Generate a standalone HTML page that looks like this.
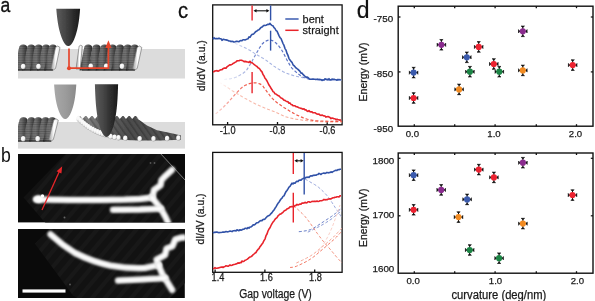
<!DOCTYPE html>
<html><head><meta charset="utf-8"><style>
html,body{margin:0;padding:0;background:#fff;}
svg{display:block;will-change:transform;}
text{-webkit-font-smoothing:antialiased;}
</style></head><body>
<svg width="595" height="301" viewBox="0 0 595 301">
<rect width="595" height="301" fill="#fff"/>

<defs>
 <linearGradient id="stripe" x1="0" y1="0" x2="1" y2="0">
  <stop offset="0" stop-color="#303030"/>
  <stop offset="0.3" stop-color="#6e6e6e"/>
  <stop offset="0.5" stop-color="#727272"/>
  <stop offset="0.8" stop-color="#484848"/>
  <stop offset="1" stop-color="#2a2a2a"/>
 </linearGradient>
 <linearGradient id="wstripe" x1="0" y1="0" x2="1" y2="0">
  <stop offset="0" stop-color="#9a9a9a"/>
  <stop offset="0.55" stop-color="#ffffff"/>
  <stop offset="1" stop-color="#e8e8e8"/>
 </linearGradient>
 <linearGradient id="bentbody" x1="0" y1="0" x2="1" y2="0">
  <stop offset="0" stop-color="#8c8c8c"/>
  <stop offset="0.25" stop-color="#666"/>
  <stop offset="0.5" stop-color="#4c4c4c"/>
  <stop offset="1" stop-color="#555"/>
 </linearGradient>
 <pattern id="hlines" width="4" height="2.3" patternUnits="userSpaceOnUse"><rect y="0" width="4" height="0.8" fill="#000" opacity="0.18"/></pattern>
 <pattern id="dlines" width="5" height="5" patternUnits="userSpaceOnUse" patternTransform="rotate(-35)"><rect width="1.6" height="5" fill="#000" opacity="0.22"/></pattern>
 <radialGradient id="ball" cx="0.4" cy="0.35" r="0.7">
  <stop offset="0" stop-color="#ffffff"/>
  <stop offset="0.6" stop-color="#f0f0f0"/>
  <stop offset="1" stop-color="#9a9a9a"/>
 </radialGradient>
 <linearGradient id="tipdark" x1="0" y1="0" x2="1" y2="0">
  <stop offset="0" stop-color="#5c5c5c"/>
  <stop offset="0.35" stop-color="#474747"/>
  <stop offset="0.8" stop-color="#262626"/>
  <stop offset="1" stop-color="#1a1a1a"/>
 </linearGradient>
 <linearGradient id="tiplight" x1="0" y1="0" x2="1" y2="0">
  <stop offset="0" stop-color="#a8a8a8"/>
  <stop offset="0.5" stop-color="#9c9c9c"/>
  <stop offset="1" stop-color="#8a8a8a"/>
 </linearGradient>
 <filter id="blur1" filterUnits="userSpaceOnUse" x="0" y="0" width="595" height="301"><feGaussianBlur stdDeviation="0.7"/></filter>
 <filter id="blur12" filterUnits="userSpaceOnUse" x="0" y="0" width="595" height="301"><feGaussianBlur stdDeviation="0.6"/></filter>
 <filter id="blur05" filterUnits="userSpaceOnUse" x="0" y="0" width="595" height="301"><feGaussianBlur stdDeviation="0.45"/></filter>
 <filter id="glow" filterUnits="userSpaceOnUse" x="0" y="0" width="595" height="301"><feGaussianBlur stdDeviation="1.0"/></filter>
 <filter id="blur08" filterUnits="userSpaceOnUse" x="0" y="0" width="595" height="301"><feGaussianBlur stdDeviation="0.8"/></filter>
 <pattern id="stm" width="10" height="10" patternUnits="userSpaceOnUse" patternTransform="rotate(40)"><rect width="10" height="10" fill="#121212"/><rect width="4" height="10" fill="#181818"/></pattern>
 <clipPath id="clipb1"><rect x="18" y="154" width="167" height="68.4"/></clipPath>
 <clipPath id="clipb2"><rect x="18" y="229" width="166.8" height="69"/></clipPath>
 <clipPath id="clipA"><rect x="18" y="0" width="167.5" height="150"/></clipPath>
 <clipPath id="clipA1"><rect x="18" y="0" width="167" height="79"/></clipPath>
 <clipPath id="clipA2"><rect x="18" y="80" width="167" height="69"/></clipPath>
</defs>

<defs><linearGradient id="g0" gradientUnits="userSpaceOnUse" x1="230" y1="0" x2="342" y2="0"><stop offset="0.000" stop-color="#8a9cd8" stop-opacity="0"/><stop offset="0.134" stop-color="#8a9cd8" stop-opacity="0.7"/><stop offset="0.536" stop-color="#8a9cd8" stop-opacity="0.8"/><stop offset="1.000" stop-color="#8a9cd8" stop-opacity="0.6"/></linearGradient><linearGradient id="g1" gradientUnits="userSpaceOnUse" x1="219" y1="0" x2="342" y2="0"><stop offset="0.000" stop-color="#f49a84" stop-opacity="0"/><stop offset="0.130" stop-color="#f49a84" stop-opacity="0.6"/><stop offset="0.577" stop-color="#f49a84" stop-opacity="0.8"/><stop offset="1.000" stop-color="#f49a84" stop-opacity="0.9"/></linearGradient><linearGradient id="g2" gradientUnits="userSpaceOnUse" x1="224" y1="0" x2="342" y2="0"><stop offset="0.000" stop-color="#4f68c0" stop-opacity="0.05"/><stop offset="0.178" stop-color="#4f68c0" stop-opacity="0.5"/><stop offset="0.322" stop-color="#4f68c0" stop-opacity="0.95"/><stop offset="0.644" stop-color="#4f68c0" stop-opacity="0.9"/><stop offset="1.000" stop-color="#4f68c0" stop-opacity="0.5"/></linearGradient><linearGradient id="g3" gradientUnits="userSpaceOnUse" x1="215" y1="0" x2="342" y2="0"><stop offset="0.000" stop-color="#ee5040" stop-opacity="0.2"/><stop offset="0.157" stop-color="#ee5040" stop-opacity="0.7"/><stop offset="0.276" stop-color="#ee5040" stop-opacity="0.95"/><stop offset="0.669" stop-color="#ee5040" stop-opacity="0.95"/><stop offset="1.000" stop-color="#ee5040" stop-opacity="0.95"/></linearGradient></defs>
<g filter="url(#blur05)"><g clip-path="url(#clipA)"><rect x="18" y="49" width="167" height="29.5" fill="#dcdcdc"/>
<rect x="18" y="122" width="167" height="26.6" fill="#dcdcdc"/>
<g filter="url(#blur1)">
<path d="M14.4,70.5 L18.9,48.5 Q19.2,44.5 23.2,44.5 Q27.2,44.5 27.6,48.5 L23.1,70.5 Z" fill="url(#stripe)"/>
<path d="M14.4,70.5 L18.9,48.5 Q19.2,44.5 23.2,44.5 Q27.2,44.5 27.6,48.5 L23.1,70.5 Z" fill="url(#hlines)"/>
<path d="M22.4,70.5 L26.9,48.5 Q27.2,44.5 31.2,44.5 Q35.2,44.5 35.5,48.5 L31.0,70.5 Z" fill="url(#stripe)"/>
<path d="M22.4,70.5 L26.9,48.5 Q27.2,44.5 31.2,44.5 Q35.2,44.5 35.5,48.5 L31.0,70.5 Z" fill="url(#hlines)"/>
<path d="M29.9,70.5 L34.4,48.5 Q34.6,44.5 38.6,44.5 Q42.6,44.5 42.9,48.5 L38.4,70.5 Z" fill="url(#stripe)"/>
<path d="M29.9,70.5 L34.4,48.5 Q34.6,44.5 38.6,44.5 Q42.6,44.5 42.9,48.5 L38.4,70.5 Z" fill="url(#hlines)"/>
<path d="M37.2,70.5 L41.8,48.5 Q42.0,44.5 46.0,44.5 Q50.0,44.5 50.3,48.5 L45.8,70.5 Z" fill="url(#stripe)"/>
<path d="M37.2,70.5 L41.8,48.5 Q42.0,44.5 46.0,44.5 Q50.0,44.5 50.3,48.5 L45.8,70.5 Z" fill="url(#hlines)"/>
<path d="M44.1,70.5 L48.6,48.5 Q48.9,44.5 52.9,44.5 Q56.9,44.5 57.1,48.5 L52.6,70.5 Z" fill="url(#stripe)"/>
<path d="M44.1,70.5 L48.6,48.5 Q48.9,44.5 52.9,44.5 Q56.9,44.5 57.1,48.5 L52.6,70.5 Z" fill="url(#hlines)"/>
<path d="M51.0,68.5 L55.5,47.5 Q57.8,44.5 60.0,47.5 L55.5,68.5 Q53.2,71.5 51.0,68.5 Z" fill="url(#wstripe)" stroke="#7a7a7a" stroke-width="0.7"/>
</g>
<rect x="18" y="69.3" width="35" height="1.5" fill="#1a1a1a" opacity="0.6"/>
<ellipse cx="23.2" cy="66.5" rx="2.3" ry="2.8" fill="url(#ball)"/>
<ellipse cx="38.5" cy="66.5" rx="2.3" ry="2.8" fill="url(#ball)"/>
<g filter="url(#blur1)">
<path d="M79.5,70.5 L84.0,48.5 Q84.2,44.5 88.2,44.5 Q92.2,44.5 92.5,48.5 L88.0,70.5 Z" fill="url(#stripe)"/>
<path d="M79.5,70.5 L84.0,48.5 Q84.2,44.5 88.2,44.5 Q92.2,44.5 92.5,48.5 L88.0,70.5 Z" fill="url(#hlines)"/>
<path d="M87.8,70.5 L92.2,48.5 Q92.5,44.5 96.5,44.5 Q100.5,44.5 100.8,48.5 L96.3,70.5 Z" fill="url(#stripe)"/>
<path d="M87.8,70.5 L92.2,48.5 Q92.5,44.5 96.5,44.5 Q100.5,44.5 100.8,48.5 L96.3,70.5 Z" fill="url(#hlines)"/>
<path d="M95.7,70.5 L100.2,48.5 Q100.5,44.5 104.5,44.5 Q108.5,44.5 108.8,48.5 L104.2,70.5 Z" fill="url(#stripe)"/>
<path d="M95.7,70.5 L100.2,48.5 Q100.5,44.5 104.5,44.5 Q108.5,44.5 108.8,48.5 L104.2,70.5 Z" fill="url(#hlines)"/>
<path d="M103.7,70.5 L108.2,48.5 Q108.5,44.5 112.5,44.5 Q116.5,44.5 116.8,48.5 L112.2,70.5 Z" fill="url(#stripe)"/>
<path d="M103.7,70.5 L108.2,48.5 Q108.5,44.5 112.5,44.5 Q116.5,44.5 116.8,48.5 L112.2,70.5 Z" fill="url(#hlines)"/>
<path d="M111.2,70.5 L115.8,48.5 Q116.0,44.5 120.0,44.5 Q124.0,44.5 124.3,48.5 L119.8,70.5 Z" fill="url(#stripe)"/>
<path d="M111.2,70.5 L115.8,48.5 Q116.0,44.5 120.0,44.5 Q124.0,44.5 124.3,48.5 L119.8,70.5 Z" fill="url(#hlines)"/>
<path d="M118.9,70.5 L123.4,48.5 Q123.7,44.5 127.7,44.5 Q131.7,44.5 132.0,48.5 L127.5,70.5 Z" fill="url(#stripe)"/>
<path d="M118.9,70.5 L123.4,48.5 Q123.7,44.5 127.7,44.5 Q131.7,44.5 132.0,48.5 L127.5,70.5 Z" fill="url(#hlines)"/>
<path d="M125.8,70.5 L130.2,48.5 Q130.6,44.5 134.6,44.5 Q138.6,44.5 138.9,48.5 L134.4,70.5 Z" fill="url(#stripe)"/>
<path d="M125.8,70.5 L130.2,48.5 Q130.6,44.5 134.6,44.5 Q138.6,44.5 138.9,48.5 L134.4,70.5 Z" fill="url(#hlines)"/>
<path d="M132.6,68.5 L137.1,47.5 Q139.4,44.5 141.8,47.5 L137.2,68.5 Q134.9,71.5 132.6,68.5 Z" fill="url(#wstripe)" stroke="#7a7a7a" stroke-width="0.7"/>
</g>
<rect x="82" y="69.3" width="53" height="1.5" fill="#1a1a1a" opacity="0.6"/>
<ellipse cx="90.8" cy="66.3" rx="2.3" ry="2.8" fill="url(#ball)"/>
<ellipse cx="106.2" cy="66.3" rx="2.3" ry="2.8" fill="url(#ball)"/>
<ellipse cx="122" cy="66.3" rx="2.3" ry="2.8" fill="url(#ball)"/>
<path d="M76,69 L79.2,46 Q80.7,44.5 82.3,46 L80.2,69 Z" fill="url(#wstripe)" stroke="#7a7a7a" stroke-width="0.7"/>
<g filter="url(#blur1)">
<path d="M14.2,141.6 L19.2,121.3 Q19.5,117.3 23.5,117.3 Q27.5,117.3 27.8,121.3 L22.8,141.6 Z" fill="url(#stripe)"/>
<path d="M14.2,141.6 L19.2,121.3 Q19.5,117.3 23.5,117.3 Q27.5,117.3 27.8,121.3 L22.8,141.6 Z" fill="url(#hlines)"/>
<path d="M22.1,141.6 L27.1,121.3 Q27.4,117.3 31.4,117.3 Q35.4,117.3 35.7,121.3 L30.7,141.6 Z" fill="url(#stripe)"/>
<path d="M22.1,141.6 L27.1,121.3 Q27.4,117.3 31.4,117.3 Q35.4,117.3 35.7,121.3 L30.7,141.6 Z" fill="url(#hlines)"/>
<path d="M29.0,141.6 L34.0,121.3 Q34.3,117.3 38.3,117.3 Q42.3,117.3 42.6,121.3 L37.6,141.6 Z" fill="url(#stripe)"/>
<path d="M29.0,141.6 L34.0,121.3 Q34.3,117.3 38.3,117.3 Q42.3,117.3 42.6,121.3 L37.6,141.6 Z" fill="url(#hlines)"/>
<path d="M36.2,141.6 L41.2,121.3 Q41.5,117.3 45.5,117.3 Q49.5,117.3 49.8,121.3 L44.8,141.6 Z" fill="url(#stripe)"/>
<path d="M36.2,141.6 L41.2,121.3 Q41.5,117.3 45.5,117.3 Q49.5,117.3 49.8,121.3 L44.8,141.6 Z" fill="url(#hlines)"/>
<path d="M42.9,141.6 L47.9,121.3 Q48.2,117.3 52.2,117.3 Q56.2,117.3 56.5,121.3 L51.5,141.6 Z" fill="url(#stripe)"/>
<path d="M42.9,141.6 L47.9,121.3 Q48.2,117.3 52.2,117.3 Q56.2,117.3 56.5,121.3 L51.5,141.6 Z" fill="url(#hlines)"/>
<path d="M48.7,139.6 L53.7,120.3 Q56.0,117.3 58.3,120.3 L53.3,139.6 Q51.0,142.6 48.7,139.6 Z" fill="url(#wstripe)" stroke="#7a7a7a" stroke-width="0.7"/>
</g>
<rect x="18" y="140.4" width="33" height="1.5" fill="#1a1a1a" opacity="0.6"/>
<ellipse cx="23.2" cy="138.8" rx="2.3" ry="2.8" fill="url(#ball)"/>
<ellipse cx="37.7" cy="138.8" rx="2.3" ry="2.8" fill="url(#ball)"/>
<g filter="url(#blur12)"><path d="M79.0,116.0 L80.2,116.0 L82.6,119.0 L85.2,116.0 L86.4,116.0 L88.8,119.0 L91.4,116.0 L92.6,116.0 L95.0,119.0 L97.6,116.0 L98.8,116.0 L101.2,119.0 L103.8,116.0 L105.0,116.0 L107.4,119.0 L110.0,116.0 L111.2,116.0 L113.6,119.0 L116.2,116.0 L117.4,116.0 L119.8,119.0 L122.4,116.0 L123.6,116.0 L126.0,119.0 L128.6,116.0 L129.8,116.0 L132.2,119.0 L134.8,116.0 L136.0,116.0 L138.4,119.0 L136.0,117.8 L140.0,120.5 L147.0,125.5 L157.0,130.3 L168.0,132.6 L176.0,134.2 L181.0,135.5 L181.0,139.8 L160.0,140.6 L140.0,140.6 L125.0,140.0 L112.0,138.5 L103.0,136.0 L95.0,132.5 L87.0,127.5 L80.0,122.0 L77.5,119.0 Z" fill="url(#bentbody)"/><path d="M79.0,116.0 L80.2,116.0 L82.6,119.0 L85.2,116.0 L86.4,116.0 L88.8,119.0 L91.4,116.0 L92.6,116.0 L95.0,119.0 L97.6,116.0 L98.8,116.0 L101.2,119.0 L103.8,116.0 L105.0,116.0 L107.4,119.0 L110.0,116.0 L111.2,116.0 L113.6,119.0 L116.2,116.0 L117.4,116.0 L119.8,119.0 L122.4,116.0 L123.6,116.0 L126.0,119.0 L128.6,116.0 L129.8,116.0 L132.2,119.0 L134.8,116.0 L136.0,116.0 L138.4,119.0 L136.0,117.8 L140.0,120.5 L147.0,125.5 L157.0,130.3 L168.0,132.6 L176.0,134.2 L181.0,135.5 L181.0,139.8 L160.0,140.6 L140.0,140.6 L125.0,140.0 L112.0,138.5 L103.0,136.0 L95.0,132.5 L87.0,127.5 L80.0,122.0 L77.5,119.0 Z" fill="url(#dlines)"/></g>
<ellipse cx="78.5" cy="118.7" rx="1.9" ry="2.9" fill="url(#ball)"/>
<ellipse cx="80.4" cy="120.4" rx="1.9" ry="2.9" fill="url(#ball)"/>
<ellipse cx="82.4" cy="122.2" rx="1.9" ry="2.9" fill="url(#ball)"/>
<ellipse cx="84.4" cy="123.8" rx="1.9" ry="2.9" fill="url(#ball)"/>
<ellipse cx="86.4" cy="125.4" rx="1.9" ry="2.9" fill="url(#ball)"/>
<ellipse cx="88.5" cy="127.0" rx="1.9" ry="2.9" fill="url(#ball)"/>
<ellipse cx="90.7" cy="128.3" rx="1.9" ry="2.9" fill="url(#ball)"/>
<ellipse cx="93.0" cy="129.6" rx="1.9" ry="2.9" fill="url(#ball)"/>
<ellipse cx="95.3" cy="130.8" rx="1.9" ry="2.9" fill="url(#ball)"/>
<ellipse cx="97.7" cy="131.9" rx="1.9" ry="2.9" fill="url(#ball)"/>
<ellipse cx="100.0" cy="133.0" rx="1.9" ry="2.9" fill="url(#ball)"/>
<ellipse cx="102.5" cy="133.7" rx="1.9" ry="2.9" fill="url(#ball)"/>
<ellipse cx="105.0" cy="134.4" rx="1.9" ry="2.9" fill="url(#ball)"/>
<ellipse cx="107.5" cy="135.0" rx="1.9" ry="2.9" fill="url(#ball)"/>
<ellipse cx="110.5" cy="136.5" rx="2.2" ry="2.7" fill="url(#ball)"/>
<ellipse cx="114.5" cy="137.2" rx="2.2" ry="2.7" fill="url(#ball)"/>
<ellipse cx="118.5" cy="137.7" rx="2.2" ry="2.7" fill="url(#ball)"/>
<ellipse cx="125.3" cy="138.2" rx="2.2" ry="2.7" fill="url(#ball)"/>
<ellipse cx="139.7" cy="138.8" rx="2.2" ry="2.7" fill="url(#ball)"/>
<ellipse cx="153.5" cy="138.8" rx="2.2" ry="2.7" fill="url(#ball)"/>
<ellipse cx="167.1" cy="138.5" rx="2.2" ry="2.7" fill="url(#ball)"/>
<ellipse cx="178.4" cy="138.0" rx="2.2" ry="2.7" fill="url(#ball)"/>
<path d="M80.10,8.80 L80.05,9.42 L80.01,10.04 L79.96,10.66 L79.91,11.28 L79.86,11.90 L79.80,12.52 L79.75,13.14 L79.69,13.76 L79.63,14.38 L79.57,15.00 L79.50,15.62 L79.43,16.24 L79.36,16.86 L79.29,17.48 L79.22,18.10 L79.14,18.72 L79.06,19.34 L78.98,19.96 L78.89,20.58 L78.80,21.20 L78.71,21.82 L78.61,22.44 L78.51,23.06 L78.41,23.68 L78.30,24.30 L78.19,24.92 L78.08,25.54 L77.96,26.16 L77.84,26.78 L77.71,27.40 L77.58,28.02 L77.44,28.64 L77.30,29.26 L77.16,29.88 L77.01,30.50 L76.85,31.12 L76.69,31.74 L76.52,32.36 L76.35,32.98 L76.17,33.60 L75.98,34.22 L75.79,34.84 L75.59,35.46 L75.38,36.08 L75.17,36.70 L74.94,37.32 L74.71,37.94 L74.46,38.56 L74.20,39.18 L73.93,39.80 L73.65,40.42 L73.34,41.04 L73.02,41.66 L72.67,42.28 L72.29,42.90 L71.87,43.52 L71.39,44.14 L70.83,44.76 L70.70,44.88 L70.26,45.26 L70.09,45.38 L69.68,45.63 L69.28,45.81 L68.92,45.93 L68.30,46.00 L67.67,45.93 L67.31,45.81 L66.89,45.63 L66.48,45.38 L66.31,45.26 L65.86,44.88 L65.73,44.76 L65.15,44.14 L64.67,43.52 L64.24,42.90 L63.85,42.28 L63.50,41.66 L63.17,41.04 L62.86,40.42 L62.57,39.80 L62.30,39.18 L62.03,38.56 L61.78,37.94 L61.55,37.32 L61.32,36.70 L61.10,36.08 L60.89,35.46 L60.68,34.84 L60.49,34.22 L60.30,33.60 L60.12,32.98 L59.94,32.36 L59.77,31.74 L59.61,31.12 L59.45,30.50 L59.29,29.88 L59.15,29.26 L59.00,28.64 L58.86,28.02 L58.73,27.40 L58.60,26.78 L58.48,26.16 L58.36,25.54 L58.24,24.92 L58.13,24.30 L58.02,23.68 L57.91,23.06 L57.81,22.44 L57.72,21.82 L57.62,21.20 L57.53,20.58 L57.44,19.96 L57.36,19.34 L57.28,18.72 L57.20,18.10 L57.12,17.48 L57.05,16.86 L56.98,16.24 L56.91,15.62 L56.84,15.00 L56.78,14.38 L56.72,13.76 L56.66,13.14 L56.60,12.52 L56.55,11.90 L56.49,11.28 L56.44,10.66 L56.39,10.04 L56.35,9.42 L56.30,8.80 Z" fill="url(#tipdark)"/>
<path d="M76.30,84.40 L76.26,84.98 L76.23,85.55 L76.19,86.13 L76.15,86.71 L76.10,87.28 L76.06,87.86 L76.01,88.44 L75.97,89.01 L75.92,89.59 L75.87,90.17 L75.81,90.74 L75.76,91.32 L75.70,91.90 L75.64,92.47 L75.57,93.05 L75.51,93.63 L75.44,94.20 L75.37,94.78 L75.29,95.36 L75.21,95.93 L75.13,96.51 L75.05,97.09 L74.96,97.66 L74.87,98.24 L74.78,98.82 L74.68,99.39 L74.58,99.97 L74.47,100.55 L74.36,101.12 L74.24,101.70 L74.13,102.28 L74.00,102.85 L73.87,103.43 L73.74,104.01 L73.60,104.58 L73.45,105.16 L73.30,105.74 L73.15,106.31 L72.98,106.89 L72.81,107.47 L72.64,108.04 L72.45,108.62 L72.26,109.20 L72.07,109.77 L71.86,110.35 L71.64,110.93 L71.42,111.50 L71.18,112.08 L70.93,112.66 L70.67,113.23 L70.39,113.81 L70.10,114.39 L69.79,114.96 L69.45,115.54 L69.08,116.12 L68.67,116.69 L68.21,117.27 L67.66,117.85 L67.53,117.96 L67.10,118.31 L66.94,118.42 L66.54,118.65 L66.15,118.83 L65.80,118.93 L65.20,119.00 L64.60,118.93 L64.25,118.83 L63.86,118.65 L63.46,118.42 L63.30,118.31 L62.87,117.96 L62.74,117.85 L62.19,117.27 L61.73,116.69 L61.32,116.12 L60.95,115.54 L60.61,114.96 L60.30,114.39 L60.01,113.81 L59.73,113.23 L59.47,112.66 L59.22,112.08 L58.98,111.50 L58.76,110.93 L58.54,110.35 L58.33,109.77 L58.14,109.20 L57.95,108.62 L57.76,108.04 L57.59,107.47 L57.42,106.89 L57.25,106.31 L57.10,105.74 L56.95,105.16 L56.80,104.58 L56.66,104.01 L56.53,103.43 L56.40,102.85 L56.27,102.28 L56.16,101.70 L56.04,101.12 L55.93,100.55 L55.82,99.97 L55.72,99.39 L55.62,98.82 L55.53,98.24 L55.44,97.66 L55.35,97.09 L55.27,96.51 L55.19,95.93 L55.11,95.36 L55.03,94.78 L54.96,94.20 L54.89,93.63 L54.83,93.05 L54.76,92.47 L54.70,91.90 L54.64,91.32 L54.59,90.74 L54.53,90.17 L54.48,89.59 L54.43,89.01 L54.39,88.44 L54.34,87.86 L54.30,87.28 L54.25,86.71 L54.21,86.13 L54.17,85.55 L54.14,84.98 L54.10,84.40 Z" fill="url(#tiplight)"/>
<path d="M118.10,84.30 L118.08,85.18 L118.05,86.05 L118.02,86.93 L118.00,87.81 L117.97,88.68 L117.93,89.56 L117.90,90.44 L117.87,91.31 L117.83,92.19 L117.79,93.07 L117.76,93.94 L117.71,94.82 L117.67,95.70 L117.62,96.57 L117.58,97.45 L117.53,98.33 L117.47,99.20 L117.42,100.08 L117.36,100.96 L117.29,101.83 L117.23,102.71 L117.16,103.59 L117.09,104.46 L117.01,105.34 L116.93,106.22 L116.84,107.09 L116.75,107.97 L116.66,108.85 L116.56,109.72 L116.45,110.60 L116.34,111.48 L116.23,112.35 L116.10,113.23 L115.98,114.11 L115.84,114.98 L115.70,115.86 L115.55,116.74 L115.39,117.61 L115.22,118.49 L115.05,119.37 L114.87,120.24 L114.67,121.12 L114.47,122.00 L114.26,122.87 L114.03,123.75 L113.80,124.63 L113.55,125.50 L113.29,126.38 L113.01,127.26 L112.72,128.13 L112.41,129.01 L112.08,129.89 L111.73,130.76 L111.34,131.64 L110.92,132.52 L110.46,133.39 L109.93,134.27 L109.30,135.15 L109.16,135.32 L108.67,135.85 L108.48,136.02 L108.03,136.37 L107.59,136.64 L107.19,136.79 L106.50,136.90 L105.81,136.79 L105.41,136.64 L104.97,136.37 L104.52,136.02 L104.33,135.85 L103.84,135.32 L103.70,135.15 L103.07,134.27 L102.54,133.39 L102.08,132.52 L101.66,131.64 L101.27,130.76 L100.92,129.89 L100.59,129.01 L100.28,128.13 L99.99,127.26 L99.71,126.38 L99.45,125.50 L99.20,124.63 L98.97,123.75 L98.74,122.87 L98.53,122.00 L98.33,121.12 L98.13,120.24 L97.95,119.37 L97.78,118.49 L97.61,117.61 L97.45,116.74 L97.30,115.86 L97.16,114.98 L97.02,114.11 L96.90,113.23 L96.77,112.35 L96.66,111.48 L96.55,110.60 L96.44,109.72 L96.34,108.85 L96.25,107.97 L96.16,107.09 L96.07,106.22 L95.99,105.34 L95.91,104.46 L95.84,103.59 L95.77,102.71 L95.71,101.83 L95.64,100.96 L95.58,100.08 L95.53,99.20 L95.47,98.33 L95.42,97.45 L95.38,96.57 L95.33,95.70 L95.29,94.82 L95.24,93.94 L95.21,93.07 L95.17,92.19 L95.13,91.31 L95.10,90.44 L95.07,89.56 L95.03,88.68 L95.00,87.81 L94.98,86.93 L94.95,86.05 L94.92,85.18 L94.90,84.30 Z" fill="url(#tipdark)"/>
<g stroke="#e6452c" stroke-width="1.7" fill="none"><path d="M69,48.5 L69,68.2 L108.4,68.2 L108.4,46"/></g>
<circle cx="69" cy="68.2" r="2" fill="#e6452c"/>
<path d="M105.3,48 L108.4,40.2 L111.5,48 Z" fill="#e6452c"/></g></g>
<rect x="18" y="154" width="167" height="68.4" fill="#0a0a0a"/>
<g clip-path="url(#clipb1)">
<polygon points="23.6,197.5 67.5,152 160,152 185,179 185,240 60,240" fill="url(#stm)"/>
<line x1="160" y1="153" x2="185" y2="180" stroke="#bbb" stroke-width="0.6"/>
<path d="M36,199.4 L70,200 L100,200 L125,199.6 L140,199 L152,197.5" stroke="#e0e0e0" stroke-width="6.5" fill="none" stroke-linecap="round" stroke-linejoin="round" filter="url(#glow)" opacity="0.85"/><path d="M36,199.4 L70,200 L100,200 L125,199.6 L140,199 L152,197.5" stroke="#ffffff" stroke-width="3.8" fill="none" stroke-linecap="round" stroke-linejoin="round" filter="url(#blur08)"/>
<path d="M152.5,197 L154,190 L160.5,185.3 L161.5,180 L165.5,175.8 L172,169.8" stroke="#e0e0e0" stroke-width="6.5" fill="none" stroke-linecap="round" stroke-linejoin="round" filter="url(#glow)" opacity="0.85"/><path d="M152.5,197 L154,190 L160.5,185.3 L161.5,180 L165.5,175.8 L172,169.8" stroke="#ffffff" stroke-width="3.8" fill="none" stroke-linecap="round" stroke-linejoin="round" filter="url(#blur08)"/>
<path d="M152,197.5 L158,205 L161,209 L165.5,217 L168,222.5" stroke="#e0e0e0" stroke-width="6.5" fill="none" stroke-linecap="round" stroke-linejoin="round" filter="url(#glow)" opacity="0.85"/><path d="M152,197.5 L158,205 L161,209 L165.5,217 L168,222.5" stroke="#ffffff" stroke-width="3.8" fill="none" stroke-linecap="round" stroke-linejoin="round" filter="url(#blur08)"/>
<path d="M113,209.8 L140,209.5 L161,208.7" stroke="#e0e0e0" stroke-width="6.5" fill="none" stroke-linecap="round" stroke-linejoin="round" filter="url(#glow)" opacity="0.85"/><path d="M113,209.8 L140,209.5 L161,208.7" stroke="#ffffff" stroke-width="3.8" fill="none" stroke-linecap="round" stroke-linejoin="round" filter="url(#blur08)"/>
<circle cx="42.5" cy="196" r="1.7" fill="#fff" filter="url(#blur05)"/>
<circle cx="64.5" cy="217.5" r="1" fill="#666" filter="url(#blur05)"/>
<circle cx="150.5" cy="163" r="0.9" fill="#555" filter="url(#blur05)"/>
<circle cx="154.5" cy="163" r="0.9" fill="#555" filter="url(#blur05)"/>
<ellipse cx="38.5" cy="199.2" rx="4.6" ry="3.9" fill="#fff" filter="url(#blur08)"/>
</g>
<line x1="42" y1="210" x2="59.3" y2="171.5" stroke="#e8262a" stroke-width="1.3"/>
<path d="M62.2,166.3 L56.6,171.3 L61.4,173.6 Z" fill="#e8262a"/>
<rect x="18" y="229" width="166.8" height="69" fill="#0a0a0a"/>
<g clip-path="url(#clipb2)">
<polygon points="35,243.7 49.5,229 185,229 185,283 170,298 77,298 72.8,295.3" fill="url(#stm)"/>
<path d="M50.5,234.3 Q62,245 75,253 Q92,261.5 110,265.5 Q128,268.8 145,268 L158.5,265" stroke="#e0e0e0" stroke-width="6.5" fill="none" stroke-linecap="round" stroke-linejoin="round" filter="url(#glow)" opacity="0.85"/><path d="M50.5,234.3 Q62,245 75,253 Q92,261.5 110,265.5 Q128,268.8 145,268 L158.5,265" stroke="#ffffff" stroke-width="3.8" fill="none" stroke-linecap="round" stroke-linejoin="round" filter="url(#blur08)"/>
<path d="M158.5,265 L156.5,259.7 L165,255 L166.5,248.5 L172.4,246.3 L175.3,239.3 L181.2,237.6 L186,237.6" stroke="#e0e0e0" stroke-width="6.5" fill="none" stroke-linecap="round" stroke-linejoin="round" filter="url(#glow)" opacity="0.85"/><path d="M158.5,265 L156.5,259.7 L165,255 L166.5,248.5 L172.4,246.3 L175.3,239.3 L181.2,237.6 L186,237.6" stroke="#ffffff" stroke-width="3.8" fill="none" stroke-linecap="round" stroke-linejoin="round" filter="url(#blur08)"/>
<path d="M158.5,265 L162.5,274.4 L168,283.2 L172.2,290" stroke="#e0e0e0" stroke-width="6.5" fill="none" stroke-linecap="round" stroke-linejoin="round" filter="url(#glow)" opacity="0.85"/><path d="M158.5,265 L162.5,274.4 L168,283.2 L172.2,290" stroke="#ffffff" stroke-width="3.8" fill="none" stroke-linecap="round" stroke-linejoin="round" filter="url(#blur08)"/>
<path d="M118,280.6 L140,279.6 L158,278.6 L165.5,278" stroke="#e0e0e0" stroke-width="6.5" fill="none" stroke-linecap="round" stroke-linejoin="round" filter="url(#glow)" opacity="0.85"/><path d="M118,280.6 L140,279.6 L158,278.6 L165.5,278" stroke="#ffffff" stroke-width="3.8" fill="none" stroke-linecap="round" stroke-linejoin="round" filter="url(#blur08)"/>
</g>
<circle cx="70" cy="284.5" r="1" fill="#555" filter="url(#blur05)"/>
<rect x="22.5" y="289.4" width="43" height="3.2" fill="#fff"/>
<text transform="translate(0.6,11.6) scale(0.9,1)" font-size="19.5" font-family="Liberation Sans, sans-serif" fill="#111" stroke="#111" stroke-width="0.35">a</text>
<text transform="translate(1.0,161.5) scale(0.88,1)" font-size="20" font-family="Liberation Sans, sans-serif" fill="#111">b</text>
<text transform="translate(177.9,18) scale(0.9,1)" font-size="22.5" font-family="Liberation Sans, sans-serif" fill="#111" stroke="#111" stroke-width="0.3">c</text>
<text x="356.8" y="17.9" font-size="23" font-family="Liberation Sans, sans-serif" fill="#111" stroke="#111" stroke-width="0.2">d</text>
<rect x="212.7" y="4.9" width="129.40000000000003" height="119.89999999999999" fill="none" stroke="#111" stroke-width="1.3"/>
<rect x="212.7" y="152.4" width="129.40000000000003" height="119.9" fill="none" stroke="#111" stroke-width="1.3"/>
<line x1="227.6" y1="124.8" x2="227.6" y2="122" stroke="#111" stroke-width="1.3"/>
<line x1="277.5" y1="124.8" x2="277.5" y2="122" stroke="#111" stroke-width="1.3"/>
<line x1="327.2" y1="124.8" x2="327.2" y2="122" stroke="#111" stroke-width="1.3"/>
<line x1="215.1" y1="272.3" x2="215.1" y2="269.5" stroke="#111" stroke-width="1.3"/>
<line x1="264.9" y1="272.3" x2="264.9" y2="269.5" stroke="#111" stroke-width="1.3"/>
<line x1="314.7" y1="272.3" x2="314.7" y2="269.5" stroke="#111" stroke-width="1.3"/>
<text transform="translate(227.6,133.7) scale(0.92,1)" font-size="10" text-anchor="middle" font-family="Liberation Sans, sans-serif" fill="#1a1a1a" stroke="#1a1a1a" stroke-width="0.25">-1.0</text>
<text transform="translate(277.5,133.7) scale(0.92,1)" font-size="10" text-anchor="middle" font-family="Liberation Sans, sans-serif" fill="#1a1a1a" stroke="#1a1a1a" stroke-width="0.25">-0.8</text>
<text transform="translate(327.5,133.7) scale(0.92,1)" font-size="10" text-anchor="middle" font-family="Liberation Sans, sans-serif" fill="#1a1a1a" stroke="#1a1a1a" stroke-width="0.25">-0.6</text>
<text transform="translate(218,281.4) scale(0.92,1)" font-size="10" text-anchor="middle" font-family="Liberation Sans, sans-serif" fill="#1a1a1a" stroke="#1a1a1a" stroke-width="0.25">1.4</text>
<text transform="translate(266.4,281.4) scale(0.92,1)" font-size="10" text-anchor="middle" font-family="Liberation Sans, sans-serif" fill="#1a1a1a" stroke="#1a1a1a" stroke-width="0.25">1.6</text>
<text transform="translate(315.5,281.4) scale(0.92,1)" font-size="10" text-anchor="middle" font-family="Liberation Sans, sans-serif" fill="#1a1a1a" stroke="#1a1a1a" stroke-width="0.25">1.8</text>
<text x="275.5" y="298.4" font-size="12" text-anchor="middle" font-family="Liberation Sans, sans-serif" fill="#1a1a1a" stroke="#1a1a1a" stroke-width="0.25" textLength="72.6" lengthAdjust="spacingAndGlyphs">Gap voltage (V)</text>
<text transform="translate(205.1,65.8) rotate(-90)" font-size="10" text-anchor="middle" font-family="Liberation Sans, sans-serif" fill="#1a1a1a" stroke="#1a1a1a" stroke-width="0.25" textLength="51" lengthAdjust="spacingAndGlyphs">dI/dV (a.u.)</text>
<text transform="translate(203.8,219) rotate(-90)" font-size="10" text-anchor="middle" font-family="Liberation Sans, sans-serif" fill="#1a1a1a" stroke="#1a1a1a" stroke-width="0.25" textLength="51" lengthAdjust="spacingAndGlyphs">dI/dV (a.u.)</text>
<line x1="285.3" y1="19" x2="298.6" y2="19" stroke="#3b5bb0" stroke-width="1.5"/>
<line x1="285.3" y1="30.3" x2="298.6" y2="30.3" stroke="#e8242a" stroke-width="1.5"/>
<text x="302.6" y="22.6" font-size="11.8" text-anchor="start" font-family="Liberation Sans, sans-serif" fill="#1a1a1a" stroke="#1a1a1a" stroke-width="0.25" textLength="21.2" lengthAdjust="spacingAndGlyphs">bent</text>
<text x="302.6" y="33.9" font-size="11.8" text-anchor="start" font-family="Liberation Sans, sans-serif" fill="#1a1a1a" stroke="#1a1a1a" stroke-width="0.25" textLength="36.1" lengthAdjust="spacingAndGlyphs">straight</text>
<path d="M230.0,41.8 L231.2,42.2 L232.9,42.7 L234.9,43.3 L237.2,44.2 L239.9,45.4 L243.0,46.8 L246.0,48.3 L248.7,49.7 L250.7,50.8 L252.3,51.9 L253.8,52.9 L255.6,54.0 L257.7,55.2 L260.0,56.5 L262.4,57.9 L265.0,59.5 L267.8,61.5 L270.8,63.8 L273.9,66.1 L277.0,68.2 L280.1,70.0 L283.2,71.7 L286.5,73.2 L290.0,74.5 L294.0,75.7 L298.3,76.7 L302.6,77.6 L306.6,78.3 L310.0,78.9 L313.0,79.3 L316.1,79.5 L320.0,79.8 L325.4,80.0 L331.8,80.1 L337.8,80.2 L342.0,80.3" fill="none" stroke="url(#g0)" stroke-width="1.1" stroke-linejoin="round" stroke-dasharray="3,2"/>
<path d="M219.0,82.5 L219.5,82.7 L220.2,83.0 L221.3,83.6 L223.0,84.6 L225.6,86.2 L228.8,88.4 L232.3,90.7 L235.7,92.8 L238.8,94.7 L241.8,96.5 L244.9,98.3 L248.0,100.0 L251.2,101.7 L254.6,103.4 L257.9,105.0 L261.3,106.5 L264.7,107.9 L268.0,109.3 L271.5,110.6 L275.0,112.0 L278.4,113.5 L281.7,115.1 L285.4,116.7 L290.0,118.0 L295.7,119.1 L302.3,120.1 L309.2,120.9 L316.0,121.5 L323.1,121.8 L330.6,122.0 L337.3,122.0 L342.0,122.0" fill="none" stroke="url(#g1)" stroke-width="1.1" stroke-linejoin="round" stroke-dasharray="3,2"/>
<path d="M224.0,79.5 L225.1,79.4 L226.6,79.2 L228.4,79.0 L230.0,78.8 L231.5,78.5 L232.9,78.2 L234.3,77.8 L235.7,77.3 L237.1,76.7 L238.4,76.0 L239.7,75.3 L241.0,74.5 L242.2,73.8 L243.4,73.0 L244.6,72.1 L245.8,70.9 L247.1,69.3 L248.4,67.3 L249.7,65.2 L251.0,63.0 L252.3,60.7 L253.6,58.2 L255.0,55.7 L256.4,53.2 L257.9,50.7 L259.4,48.1 L261.0,45.6 L262.5,43.7 L264.0,42.3 L265.5,41.3 L267.0,40.6 L268.5,40.2 L270.0,40.1 L271.5,40.3 L273.0,40.9 L274.6,41.9 L276.3,43.3 L278.0,45.1 L279.8,47.3 L281.5,49.7 L283.2,52.7 L285.0,56.1 L286.7,59.5 L288.3,62.4 L289.6,64.6 L290.6,66.3 L291.7,67.9 L293.3,69.6 L295.5,71.6 L298.0,73.8 L300.7,75.8 L303.5,77.3 L305.9,78.3 L308.2,78.9 L311.0,79.2 L315.0,79.5 L321.3,79.8 L329.2,79.9 L336.8,80.0 L342.0,80.0" fill="none" stroke="url(#g2)" stroke-width="1.2" stroke-linejoin="round" stroke-dasharray="3,2"/>
<path d="M215.6,113.8 L216.8,112.9 L218.4,111.6 L220.2,110.0 L222.0,108.5 L223.5,107.0 L225.0,105.5 L226.6,103.9 L228.4,102.0 L230.5,99.6 L232.9,96.9 L235.3,94.2 L237.5,91.9 L239.4,90.0 L241.1,88.2 L242.9,86.8 L244.8,85.5 L247.0,84.5 L249.4,83.6 L251.8,83.1 L254.0,82.8 L256.1,82.9 L258.0,83.3 L259.8,83.9 L261.3,84.6 L262.3,85.3 L262.9,86.0 L263.6,87.1 L264.6,88.5 L266.2,90.6 L268.1,93.2 L270.2,96.0 L272.3,98.4 L274.4,100.4 L276.5,102.2 L278.8,103.9 L281.4,105.7 L284.3,107.7 L287.5,109.7 L290.8,111.7 L294.0,113.5 L297.1,115.1 L300.3,116.6 L303.4,117.9 L306.6,119.0 L309.7,119.8 L312.7,120.3 L316.0,120.7 L320.0,121.0 L325.4,121.2 L331.8,121.4 L337.8,121.4 L342.0,121.5" fill="none" stroke="url(#g3)" stroke-width="1.2" stroke-linejoin="round" stroke-dasharray="3,2"/>
<path d="M213.0,39.3 L214.0,37.7 L215.0,38.8 L216.0,38.5 L217.0,38.6 L218.0,38.7 L219.0,38.1 L220.0,38.8 L221.0,38.7 L222.0,40.3 L223.0,39.4 L224.0,39.4 L225.0,39.7 L226.0,39.9 L227.0,40.1 L228.0,40.5 L229.0,41.0 L230.0,41.0 L231.0,41.6 L232.0,41.3 L233.0,41.5 L234.0,42.1 L235.0,41.8 L236.0,41.4 L237.0,41.4 L238.0,41.5 L239.0,41.8 L240.0,40.8 L241.0,40.6 L242.0,40.8 L243.0,39.8 L244.0,39.8 L245.0,40.0 L246.0,39.6 L247.0,39.1 L248.0,38.8 L249.0,36.9 L250.0,37.3 L251.0,35.6 L252.0,34.4 L253.0,34.3 L254.0,33.6 L255.0,32.4 L256.0,31.4 L257.0,31.0 L258.0,30.1 L259.0,29.7 L260.0,28.6 L261.0,27.5 L262.0,27.1 L263.0,26.1 L264.0,25.4 L265.0,25.5 L266.0,25.2 L267.0,24.7 L268.0,24.2 L269.0,24.4 L270.0,23.4 L271.0,24.7 L272.0,25.5 L273.0,25.8 L274.0,27.6 L275.0,28.5 L276.0,30.5 L277.0,31.1 L278.0,33.3 L279.0,35.6 L280.0,37.7 L281.0,38.5 L282.0,41.0 L283.0,43.5 L284.0,45.4 L285.0,48.6 L286.0,50.1 L287.0,53.4 L288.0,55.4 L289.0,58.6 L290.0,60.0 L291.0,61.4 L292.0,62.3 L293.0,64.8 L294.0,65.6 L295.0,66.7 L296.0,67.9 L297.0,68.7 L298.0,69.4 L299.0,70.4 L300.0,71.4 L301.0,73.2 L302.0,73.1 L303.0,74.4 L304.0,75.3 L305.0,76.3 L306.0,77.1 L307.0,77.1 L308.0,77.5 L309.0,78.6 L310.0,79.3 L311.0,79.3 L312.0,79.2 L313.0,79.1 L314.0,79.3 L315.0,79.2 L316.0,79.6 L317.0,79.1 L318.0,79.5 L319.0,79.4 L320.0,79.6 L321.0,79.6 L322.0,80.4 L323.0,80.0 L324.0,80.0 L325.0,78.8 L326.0,79.4 L327.0,79.3 L328.0,79.7 L329.0,78.7 L330.0,79.9 L331.0,79.9 L332.0,79.1 L333.0,79.2 L334.0,79.2 L335.0,79.5 L336.0,79.7 L337.0,80.2 L338.0,79.4 L339.0,79.8 L340.0,79.6 L341.0,80.1" fill="none" stroke="#3152a8" stroke-width="1.6" stroke-linejoin="round" opacity="1"/>
<path d="M213.0,71.8 L214.0,71.8 L215.0,70.8 L216.0,71.0 L217.0,70.6 L218.0,71.2 L219.0,70.7 L220.0,70.1 L221.0,69.7 L222.0,69.6 L223.0,68.7 L224.0,68.1 L225.0,68.1 L226.0,68.3 L227.0,66.8 L228.0,66.1 L229.0,65.4 L230.0,64.8 L231.0,64.9 L232.0,64.4 L233.0,63.5 L234.0,63.0 L235.0,62.4 L236.0,61.9 L237.0,60.9 L238.0,60.8 L239.0,60.7 L240.0,60.3 L241.0,60.3 L242.0,60.4 L243.0,60.9 L244.0,61.6 L245.0,61.4 L246.0,61.6 L247.0,62.0 L248.0,62.0 L249.0,62.4 L250.0,61.3 L251.0,62.7 L252.0,62.7 L253.0,63.5 L254.0,64.4 L255.0,65.2 L256.0,65.9 L257.0,66.5 L258.0,67.8 L259.0,68.2 L260.0,69.3 L261.0,70.9 L262.0,71.9 L263.0,74.5 L264.0,75.9 L265.0,78.2 L266.0,79.3 L267.0,81.0 L268.0,83.0 L269.0,85.1 L270.0,86.4 L271.0,88.3 L272.0,89.7 L273.0,91.6 L274.0,92.1 L275.0,93.8 L276.0,94.1 L277.0,94.8 L278.0,95.5 L279.0,95.9 L280.0,97.0 L281.0,97.9 L282.0,98.3 L283.0,99.1 L284.0,100.2 L285.0,100.4 L286.0,101.1 L287.0,101.6 L288.0,101.8 L289.0,103.3 L290.0,103.0 L291.0,104.4 L292.0,104.7 L293.0,105.6 L294.0,105.7 L295.0,105.8 L296.0,106.7 L297.0,106.8 L298.0,107.3 L299.0,107.8 L300.0,108.1 L301.0,108.4 L302.0,108.6 L303.0,109.2 L304.0,108.8 L305.0,109.9 L306.0,109.9 L307.0,111.0 L308.0,111.4 L309.0,110.6 L310.0,111.7 L311.0,111.9 L312.0,111.9 L313.0,112.8 L314.0,112.8 L315.0,112.7 L316.0,113.5 L317.0,113.9 L318.0,114.3 L319.0,114.1 L320.0,115.1 L321.0,115.4 L322.0,115.0 L323.0,115.5 L324.0,115.9 L325.0,116.0 L326.0,117.1 L327.0,116.8 L328.0,116.6 L329.0,117.0 L330.0,117.5 L331.0,118.6 L332.0,118.0 L333.0,118.3 L334.0,118.7 L335.0,118.8 L336.0,119.8 L337.0,119.1 L338.0,119.8 L339.0,119.8 L340.0,120.2 L341.0,119.8" fill="none" stroke="#e8232b" stroke-width="1.6" stroke-linejoin="round" opacity="1"/>
<line x1="252.1" y1="5.5" x2="252.1" y2="20.5" stroke="#e8232b" stroke-width="1.4"/>
<line x1="252.1" y1="72" x2="252.1" y2="93.3" stroke="#e8232b" stroke-width="1.4"/>
<line x1="270.6" y1="5.5" x2="270.6" y2="20.5" stroke="#3152a8" stroke-width="1.4"/>
<line x1="270.6" y1="30.7" x2="270.6" y2="50.6" stroke="#3152a8" stroke-width="1.4"/>
<line x1="255.5" y1="10.8" x2="267.4" y2="10.8" stroke="#111" stroke-width="1.1"/><path d="M253.5,10.8 L256.5,9.0 L256.5,12.600000000000001 Z M269.4,10.8 L266.4,9.0 L266.4,12.600000000000001 Z" fill="#111"/>
<path d="M305.0,179.0 L306.0,179.6 L307.5,180.4 L309.2,181.4 L311.0,182.5 L312.8,183.5 L314.7,184.6 L316.6,185.8 L318.7,187.4 L320.9,189.3 L323.3,191.6 L325.6,194.0 L327.8,196.5 L329.8,199.2 L331.8,202.2 L333.6,205.0 L335.1,207.4 L336.3,209.2 L337.2,210.5 L338.0,211.7 L338.8,212.9 L339.7,214.3 L340.6,215.8 L341.4,217.1 L342.0,218.0" fill="none" stroke="#9aa8dc" stroke-width="1.0" stroke-linejoin="round" opacity="1" stroke-dasharray="3,2"/>
<path d="M298.8,231.7 L300.9,231.5 L303.8,231.1 L307.1,230.6 L310.4,229.6 L313.6,228.1 L316.9,226.1 L320.1,223.9 L323.2,221.9 L326.1,220.0 L328.9,218.2 L331.4,216.5 L333.5,215.0 L334.9,213.9 L335.7,213.1 L336.4,212.5 L337.3,211.7 L338.5,210.7 L339.9,209.6 L341.1,208.7 L342.0,208.0" fill="none" stroke="#6a80c8" stroke-width="1.0" stroke-linejoin="round" opacity="1" stroke-dasharray="3,2"/>
<path d="M307.8,232.2 L310.2,231.0 L313.6,229.4 L317.3,227.5 L320.6,225.8 L323.4,224.2 L326.2,222.5 L328.7,220.9 L330.9,219.4 L332.8,218.0 L334.4,216.6 L335.9,215.4 L337.3,214.2 L338.7,213.1 L340.1,212.0 L341.2,211.1 L342.0,210.5" fill="none" stroke="#8a9ad4" stroke-width="1.0" stroke-linejoin="round" opacity="1" stroke-dasharray="3,2"/>
<path d="M293.5,205.5 L295.7,207.5 L298.8,210.3 L302.2,213.5 L305.3,216.8 L308.0,220.2 L310.7,223.9 L313.2,227.6 L315.5,230.9 L317.6,233.8 L319.5,236.4 L321.3,238.8 L323.2,241.2 L325.2,243.6 L327.1,245.8 L329.1,248.0 L330.9,250.1 L332.6,252.2 L334.3,254.2 L335.8,256.1 L337.3,257.8 L338.7,259.4 L340.1,260.9 L341.2,262.1 L342.0,263.0" fill="none" stroke="#f3907c" stroke-width="1.0" stroke-linejoin="round" opacity="1" stroke-dasharray="3,2"/>
<path d="M290.0,267.5 L290.9,267.4 L292.3,267.3 L294.0,267.1 L296.3,266.3 L299.3,265.0 L302.9,263.3 L306.8,261.3 L310.4,259.1 L313.8,256.7 L317.0,254.1 L320.2,251.3 L323.2,248.8 L326.1,246.4 L328.8,244.0 L331.3,241.8 L333.5,239.9 L335.2,238.3 L336.5,237.0 L337.6,235.8 L338.6,234.7 L339.6,233.6 L340.6,232.5 L341.4,231.6 L342.0,231.0" fill="none" stroke="#f27a66" stroke-width="1.0" stroke-linejoin="round" opacity="1" stroke-dasharray="3,2"/>
<path d="M296.3,263.0 L298.9,261.8 L302.6,260.1 L306.6,258.1 L310.4,256.0 L313.8,253.7 L317.0,251.1 L320.2,248.5 L323.2,246.0 L326.1,243.6 L328.8,241.2 L331.3,239.0 L333.5,237.0 L335.2,235.3 L336.5,233.9 L337.6,232.7 L338.6,231.5 L339.6,230.4 L340.6,229.4 L341.4,228.6 L342.0,228.0" fill="none" stroke="#f6a898" stroke-width="1.0" stroke-linejoin="round" opacity="1" stroke-dasharray="3,2"/>
<path d="M318.0,252.0 L319.5,249.9 L321.6,246.9 L323.9,243.5 L326.0,240.0 L327.8,236.6 L329.6,233.0 L331.3,229.2 L333.0,225.0 L334.9,219.9 L336.9,214.1 L338.7,208.7 L340.0,205.0" fill="none" stroke="#fbd0c8" stroke-width="1.0" stroke-linejoin="round" opacity="1" stroke-dasharray="3,2"/>
<path d="M213.0,233.0 L214.0,232.3 L215.0,232.4 L216.0,232.0 L217.0,232.1 L218.0,232.5 L219.0,232.6 L220.0,232.5 L221.0,232.5 L222.0,232.3 L223.0,232.0 L224.0,232.1 L225.0,232.0 L226.0,231.6 L227.0,231.8 L228.0,231.9 L229.0,231.4 L230.0,231.1 L231.0,231.3 L232.0,231.6 L233.0,230.8 L234.0,230.7 L235.0,230.6 L236.0,231.0 L237.0,229.8 L238.0,230.4 L239.0,230.6 L240.0,229.7 L241.0,230.3 L242.0,229.8 L243.0,229.2 L244.0,229.2 L245.0,228.3 L246.0,228.3 L247.0,228.8 L248.0,227.5 L249.0,228.1 L250.0,227.0 L251.0,227.0 L252.0,226.2 L253.0,224.9 L254.0,224.9 L255.0,224.5 L256.0,223.4 L257.0,222.7 L258.0,222.8 L259.0,221.8 L260.0,220.9 L261.0,220.6 L262.0,220.6 L263.0,219.5 L264.0,219.4 L265.0,219.0 L266.0,217.8 L267.0,216.7 L268.0,215.9 L269.0,215.5 L270.0,214.8 L271.0,213.6 L272.0,212.6 L273.0,211.1 L274.0,210.0 L275.0,208.3 L276.0,206.9 L277.0,205.0 L278.0,203.3 L279.0,202.2 L280.0,200.5 L281.0,199.0 L282.0,198.1 L283.0,196.4 L284.0,195.9 L285.0,193.7 L286.0,191.6 L287.0,190.5 L288.0,188.9 L289.0,187.1 L290.0,186.4 L291.0,184.7 L292.0,183.2 L293.0,183.9 L294.0,182.9 L295.0,183.2 L296.0,181.9 L297.0,181.2 L298.0,181.6 L299.0,180.2 L300.0,180.1 L301.0,180.1 L302.0,179.1 L303.0,178.6 L304.0,178.3 L305.0,178.2 L306.0,177.2 L307.0,177.4 L308.0,177.1 L309.0,177.4 L310.0,176.2 L311.0,175.7 L312.0,176.1 L313.0,175.4 L314.0,175.4 L315.0,175.1 L316.0,175.3 L317.0,174.5 L318.0,174.5 L319.0,173.4 L320.0,173.8 L321.0,174.5 L322.0,173.5 L323.0,173.3 L324.0,173.0 L325.0,173.4 L326.0,173.1 L327.0,172.4 L328.0,172.9 L329.0,172.6 L330.0,172.5 L331.0,171.8 L332.0,172.4 L333.0,171.6 L334.0,171.1 L335.0,170.6 L336.0,170.3 L337.0,170.4 L338.0,169.6 L339.0,169.7 L340.0,169.2 L341.0,169.2" fill="none" stroke="#3152a8" stroke-width="1.6" stroke-linejoin="round" opacity="1"/>
<path d="M213.0,268.8 L214.0,268.4 L215.0,267.6 L216.0,268.3 L217.0,268.3 L218.0,268.0 L219.0,267.9 L220.0,267.4 L221.0,267.3 L222.0,266.9 L223.0,267.5 L224.0,266.8 L225.0,266.4 L226.0,265.8 L227.0,266.0 L228.0,266.3 L229.0,265.7 L230.0,265.0 L231.0,265.5 L232.0,265.3 L233.0,264.8 L234.0,264.5 L235.0,264.3 L236.0,263.9 L237.0,263.7 L238.0,262.8 L239.0,263.3 L240.0,262.6 L241.0,262.8 L242.0,261.0 L243.0,261.6 L244.0,261.2 L245.0,260.2 L246.0,259.9 L247.0,259.4 L248.0,258.7 L249.0,257.6 L250.0,257.0 L251.0,256.7 L252.0,256.0 L253.0,254.8 L254.0,254.0 L255.0,253.1 L256.0,252.5 L257.0,250.7 L258.0,249.4 L259.0,248.6 L260.0,246.7 L261.0,245.4 L262.0,244.1 L263.0,242.7 L264.0,240.5 L265.0,239.1 L266.0,235.7 L267.0,234.0 L268.0,231.0 L269.0,229.1 L270.0,227.8 L271.0,225.5 L272.0,223.6 L273.0,222.1 L274.0,220.9 L275.0,219.4 L276.0,218.3 L277.0,217.6 L278.0,215.9 L279.0,215.0 L280.0,214.1 L281.0,213.9 L282.0,213.0 L283.0,212.3 L284.0,211.1 L285.0,210.4 L286.0,210.0 L287.0,208.9 L288.0,208.6 L289.0,208.0 L290.0,206.9 L291.0,206.7 L292.0,206.4 L293.0,206.8 L294.0,206.8 L295.0,205.6 L296.0,205.4 L297.0,204.3 L298.0,205.0 L299.0,204.6 L300.0,204.0 L301.0,204.3 L302.0,203.1 L303.0,203.1 L304.0,203.0 L305.0,202.3 L306.0,202.9 L307.0,202.8 L308.0,201.8 L309.0,201.7 L310.0,202.3 L311.0,201.9 L312.0,201.4 L313.0,201.5 L314.0,201.4 L315.0,201.3 L316.0,201.5 L317.0,201.1 L318.0,201.5 L319.0,201.2 L320.0,200.8 L321.0,200.7 L322.0,200.6 L323.0,200.2 L324.0,199.4 L325.0,199.9 L326.0,199.5 L327.0,199.8 L328.0,199.1 L329.0,199.0 L330.0,198.7 L331.0,199.0 L332.0,198.2 L333.0,197.8 L334.0,197.8 L335.0,197.2 L336.0,197.2 L337.0,196.8 L338.0,196.7 L339.0,197.0 L340.0,195.9 L341.0,195.8" fill="none" stroke="#e8232b" stroke-width="1.6" stroke-linejoin="round" opacity="1"/>
<line x1="293.3" y1="153" x2="293.3" y2="174" stroke="#e8232b" stroke-width="1.4"/>
<line x1="293.3" y1="192.8" x2="293.3" y2="222.5" stroke="#e8232b" stroke-width="1.4"/>
<line x1="304.2" y1="153" x2="304.2" y2="194.4" stroke="#3152a8" stroke-width="1.4"/>
<line x1="296.4" y1="160.8" x2="301.6" y2="160.8" stroke="#111" stroke-width="1.1"/><path d="M294.4,160.8 L297.4,159.0 L297.4,162.60000000000002 Z M303.6,160.8 L300.6,159.0 L300.6,162.60000000000002 Z" fill="#111"/>
<rect x="398.2" y="6.2" width="194.8" height="120.0" fill="none" stroke="#111" stroke-width="1.4"/>
<rect x="398.2" y="153" width="194.8" height="120.19999999999999" fill="none" stroke="#111" stroke-width="1.4"/>
<line x1="414.3" y1="6.2" x2="414.3" y2="8.2" stroke="#111" stroke-width="1.3"/>
<line x1="414.3" y1="126.2" x2="414.3" y2="124.2" stroke="#111" stroke-width="1.3"/>
<line x1="414.3" y1="153" x2="414.3" y2="155" stroke="#111" stroke-width="1.3"/>
<line x1="414.3" y1="273.2" x2="414.3" y2="271.2" stroke="#111" stroke-width="1.3"/>
<line x1="454.7" y1="6.2" x2="454.7" y2="8.2" stroke="#111" stroke-width="1.3"/>
<line x1="454.7" y1="126.2" x2="454.7" y2="124.2" stroke="#111" stroke-width="1.3"/>
<line x1="454.7" y1="153" x2="454.7" y2="155" stroke="#111" stroke-width="1.3"/>
<line x1="454.7" y1="273.2" x2="454.7" y2="271.2" stroke="#111" stroke-width="1.3"/>
<line x1="495.1" y1="6.2" x2="495.1" y2="8.2" stroke="#111" stroke-width="1.3"/>
<line x1="495.1" y1="126.2" x2="495.1" y2="124.2" stroke="#111" stroke-width="1.3"/>
<line x1="495.1" y1="153" x2="495.1" y2="155" stroke="#111" stroke-width="1.3"/>
<line x1="495.1" y1="273.2" x2="495.1" y2="271.2" stroke="#111" stroke-width="1.3"/>
<line x1="536.3" y1="6.2" x2="536.3" y2="8.2" stroke="#111" stroke-width="1.3"/>
<line x1="536.3" y1="126.2" x2="536.3" y2="124.2" stroke="#111" stroke-width="1.3"/>
<line x1="536.3" y1="153" x2="536.3" y2="155" stroke="#111" stroke-width="1.3"/>
<line x1="536.3" y1="273.2" x2="536.3" y2="271.2" stroke="#111" stroke-width="1.3"/>
<line x1="576.5" y1="6.2" x2="576.5" y2="8.2" stroke="#111" stroke-width="1.3"/>
<line x1="576.5" y1="126.2" x2="576.5" y2="124.2" stroke="#111" stroke-width="1.3"/>
<line x1="576.5" y1="153" x2="576.5" y2="155" stroke="#111" stroke-width="1.3"/>
<line x1="576.5" y1="273.2" x2="576.5" y2="271.2" stroke="#111" stroke-width="1.3"/>
<line x1="398.2" y1="17" x2="400.5" y2="17" stroke="#111" stroke-width="1.3"/>
<line x1="593" y1="17" x2="590.8" y2="17" stroke="#111" stroke-width="1.2"/>
<line x1="398.2" y1="71.9" x2="400.5" y2="71.9" stroke="#111" stroke-width="1.3"/>
<line x1="593" y1="71.9" x2="590.8" y2="71.9" stroke="#111" stroke-width="1.2"/>
<line x1="398.2" y1="158.3" x2="400.5" y2="158.3" stroke="#111" stroke-width="1.3"/>
<line x1="593" y1="158.3" x2="590.8" y2="158.3" stroke="#111" stroke-width="1.2"/>
<line x1="398.2" y1="215.8" x2="400.5" y2="215.8" stroke="#111" stroke-width="1.3"/>
<line x1="593" y1="215.8" x2="590.8" y2="215.8" stroke="#111" stroke-width="1.2"/>
<text x="393.2" y="22" font-size="9.8" text-anchor="end" font-family="Liberation Sans, sans-serif" fill="#1a1a1a" stroke="#1a1a1a" stroke-width="0.25" >-750</text>
<text x="393.2" y="76.7" font-size="9.8" text-anchor="end" font-family="Liberation Sans, sans-serif" fill="#1a1a1a" stroke="#1a1a1a" stroke-width="0.25" >-850</text>
<text x="393.2" y="131.9" font-size="9.8" text-anchor="end" font-family="Liberation Sans, sans-serif" fill="#1a1a1a" stroke="#1a1a1a" stroke-width="0.25" >-950</text>
<text x="394.3" y="163.7" font-size="9.8" text-anchor="end" font-family="Liberation Sans, sans-serif" fill="#1a1a1a" stroke="#1a1a1a" stroke-width="0.25" >1800</text>
<text x="394.3" y="217.9" font-size="9.8" text-anchor="end" font-family="Liberation Sans, sans-serif" fill="#1a1a1a" stroke="#1a1a1a" stroke-width="0.25" >1700</text>
<text x="394.3" y="271.8" font-size="9.8" text-anchor="end" font-family="Liberation Sans, sans-serif" fill="#1a1a1a" stroke="#1a1a1a" stroke-width="0.25" >1600</text>
<text x="412.3" y="136.6" font-size="9.6" text-anchor="middle" font-family="Liberation Sans, sans-serif" fill="#1a1a1a" stroke="#1a1a1a" stroke-width="0.25" >0.0</text>
<text x="494" y="136.6" font-size="9.6" text-anchor="middle" font-family="Liberation Sans, sans-serif" fill="#1a1a1a" stroke="#1a1a1a" stroke-width="0.25" >1.0</text>
<text x="575.5" y="136.6" font-size="9.6" text-anchor="middle" font-family="Liberation Sans, sans-serif" fill="#1a1a1a" stroke="#1a1a1a" stroke-width="0.25" >2.0</text>
<text x="413.1" y="283.6" font-size="9.6" text-anchor="middle" font-family="Liberation Sans, sans-serif" fill="#1a1a1a" stroke="#1a1a1a" stroke-width="0.25" >0.0</text>
<text x="495.5" y="283.6" font-size="9.6" text-anchor="middle" font-family="Liberation Sans, sans-serif" fill="#1a1a1a" stroke="#1a1a1a" stroke-width="0.25" >1.0</text>
<text x="577.3" y="283.6" font-size="9.6" text-anchor="middle" font-family="Liberation Sans, sans-serif" fill="#1a1a1a" stroke="#1a1a1a" stroke-width="0.25" >2.0</text>
<text transform="translate(367,72) rotate(-90)" font-size="10" text-anchor="middle" font-family="Liberation Sans, sans-serif" fill="#1a1a1a" stroke="#1a1a1a" stroke-width="0.25" textLength="58.8" lengthAdjust="spacingAndGlyphs">Energy (mV)</text>
<text transform="translate(367,217.8) rotate(-90)" font-size="10" text-anchor="middle" font-family="Liberation Sans, sans-serif" fill="#1a1a1a" stroke="#1a1a1a" stroke-width="0.25" textLength="58.4" lengthAdjust="spacingAndGlyphs">Energy (mV)</text>
<text x="498.9" y="298.5" font-size="12" text-anchor="middle" font-family="Liberation Sans, sans-serif" fill="#1a1a1a" stroke="#1a1a1a" stroke-width="0.25" textLength="94.8" lengthAdjust="spacingAndGlyphs">curvature (deg/nm)</text>
<line x1="413.6" y1="67.3" x2="413.6" y2="77.89999999999999" stroke="#111" stroke-width="1.0"/>
<line x1="409.3" y1="72.6" x2="417.90000000000003" y2="72.6" stroke="#111" stroke-width="1.0"/>
<path d="M411.90000000000003,67.3 L415.3,67.3 L413.6,68.78399999999999 Z" fill="#111" stroke="#111" stroke-width="0.6"/>
<path d="M411.90000000000003,77.89999999999999 L415.3,77.89999999999999 L413.6,76.416 Z" fill="#111" stroke="#111" stroke-width="0.6"/>
<path d="M409.3,70.89999999999999 L409.3,74.3 L410.504,72.6 Z" fill="#111" stroke="#111" stroke-width="0.6"/>
<path d="M417.90000000000003,70.89999999999999 L417.90000000000003,74.3 L416.696,72.6 Z" fill="#111" stroke="#111" stroke-width="0.6"/>
<circle cx="413.6" cy="72.6" r="3.1" fill="#3a5aad"/>
<line x1="413.6" y1="92.7" x2="413.6" y2="103.3" stroke="#111" stroke-width="1.0"/>
<line x1="409.3" y1="98" x2="417.90000000000003" y2="98" stroke="#111" stroke-width="1.0"/>
<path d="M411.90000000000003,92.7 L415.3,92.7 L413.6,94.184 Z" fill="#111" stroke="#111" stroke-width="0.6"/>
<path d="M411.90000000000003,103.3 L415.3,103.3 L413.6,101.816 Z" fill="#111" stroke="#111" stroke-width="0.6"/>
<path d="M409.3,96.3 L409.3,99.7 L410.504,98 Z" fill="#111" stroke="#111" stroke-width="0.6"/>
<path d="M417.90000000000003,96.3 L417.90000000000003,99.7 L416.696,98 Z" fill="#111" stroke="#111" stroke-width="0.6"/>
<circle cx="413.6" cy="98" r="3.1" fill="#ec2230"/>
<line x1="441.4" y1="39.5" x2="441.4" y2="50.099999999999994" stroke="#111" stroke-width="1.0"/>
<line x1="437.09999999999997" y1="44.8" x2="445.7" y2="44.8" stroke="#111" stroke-width="1.0"/>
<path d="M439.7,39.5 L443.09999999999997,39.5 L441.4,40.983999999999995 Z" fill="#111" stroke="#111" stroke-width="0.6"/>
<path d="M439.7,50.099999999999994 L443.09999999999997,50.099999999999994 L441.4,48.616 Z" fill="#111" stroke="#111" stroke-width="0.6"/>
<path d="M437.09999999999997,43.099999999999994 L437.09999999999997,46.5 L438.304,44.8 Z" fill="#111" stroke="#111" stroke-width="0.6"/>
<path d="M445.7,43.099999999999994 L445.7,46.5 L444.496,44.8 Z" fill="#111" stroke="#111" stroke-width="0.6"/>
<circle cx="441.4" cy="44.8" r="3.1" fill="#8a2b8e"/>
<line x1="459.1" y1="84.10000000000001" x2="459.1" y2="94.7" stroke="#111" stroke-width="1.0"/>
<line x1="454.8" y1="89.4" x2="463.40000000000003" y2="89.4" stroke="#111" stroke-width="1.0"/>
<path d="M457.40000000000003,84.10000000000001 L460.8,84.10000000000001 L459.1,85.584 Z" fill="#111" stroke="#111" stroke-width="0.6"/>
<path d="M457.40000000000003,94.7 L460.8,94.7 L459.1,93.21600000000001 Z" fill="#111" stroke="#111" stroke-width="0.6"/>
<path d="M454.8,87.7 L454.8,91.10000000000001 L456.004,89.4 Z" fill="#111" stroke="#111" stroke-width="0.6"/>
<path d="M463.40000000000003,87.7 L463.40000000000003,91.10000000000001 L462.196,89.4 Z" fill="#111" stroke="#111" stroke-width="0.6"/>
<circle cx="459.1" cy="89.4" r="3.1" fill="#f28b22"/>
<line x1="466.8" y1="52.0" x2="466.8" y2="62.599999999999994" stroke="#111" stroke-width="1.0"/>
<line x1="462.5" y1="57.3" x2="471.1" y2="57.3" stroke="#111" stroke-width="1.0"/>
<path d="M465.1,52.0 L468.5,52.0 L466.8,53.483999999999995 Z" fill="#111" stroke="#111" stroke-width="0.6"/>
<path d="M465.1,62.599999999999994 L468.5,62.599999999999994 L466.8,61.116 Z" fill="#111" stroke="#111" stroke-width="0.6"/>
<path d="M462.5,55.599999999999994 L462.5,59.0 L463.704,57.3 Z" fill="#111" stroke="#111" stroke-width="0.6"/>
<path d="M471.1,55.599999999999994 L471.1,59.0 L469.896,57.3 Z" fill="#111" stroke="#111" stroke-width="0.6"/>
<circle cx="466.8" cy="57.3" r="3.1" fill="#3a5aad"/>
<line x1="469.9" y1="66.4" x2="469.9" y2="77.0" stroke="#111" stroke-width="1.0"/>
<line x1="465.59999999999997" y1="71.7" x2="474.2" y2="71.7" stroke="#111" stroke-width="1.0"/>
<path d="M468.2,66.4 L471.59999999999997,66.4 L469.9,67.884 Z" fill="#111" stroke="#111" stroke-width="0.6"/>
<path d="M468.2,77.0 L471.59999999999997,77.0 L469.9,75.516 Z" fill="#111" stroke="#111" stroke-width="0.6"/>
<path d="M465.59999999999997,70.0 L465.59999999999997,73.4 L466.804,71.7 Z" fill="#111" stroke="#111" stroke-width="0.6"/>
<path d="M474.2,70.0 L474.2,73.4 L472.996,71.7 Z" fill="#111" stroke="#111" stroke-width="0.6"/>
<circle cx="469.9" cy="71.7" r="3.1" fill="#1b8444"/>
<line x1="478.7" y1="41.6" x2="478.7" y2="52.199999999999996" stroke="#111" stroke-width="1.0"/>
<line x1="474.4" y1="46.9" x2="483.0" y2="46.9" stroke="#111" stroke-width="1.0"/>
<path d="M477.0,41.6 L480.4,41.6 L478.7,43.083999999999996 Z" fill="#111" stroke="#111" stroke-width="0.6"/>
<path d="M477.0,52.199999999999996 L480.4,52.199999999999996 L478.7,50.716 Z" fill="#111" stroke="#111" stroke-width="0.6"/>
<path d="M474.4,45.199999999999996 L474.4,48.6 L475.604,46.9 Z" fill="#111" stroke="#111" stroke-width="0.6"/>
<path d="M483.0,45.199999999999996 L483.0,48.6 L481.796,46.9 Z" fill="#111" stroke="#111" stroke-width="0.6"/>
<circle cx="478.7" cy="46.9" r="3.1" fill="#ec2230"/>
<line x1="493.8" y1="58.7" x2="493.8" y2="69.3" stroke="#111" stroke-width="1.0"/>
<line x1="489.5" y1="64" x2="498.1" y2="64" stroke="#111" stroke-width="1.0"/>
<path d="M492.1,58.7 L495.5,58.7 L493.8,60.184 Z" fill="#111" stroke="#111" stroke-width="0.6"/>
<path d="M492.1,69.3 L495.5,69.3 L493.8,67.816 Z" fill="#111" stroke="#111" stroke-width="0.6"/>
<path d="M489.5,62.3 L489.5,65.7 L490.704,64 Z" fill="#111" stroke="#111" stroke-width="0.6"/>
<path d="M498.1,62.3 L498.1,65.7 L496.896,64 Z" fill="#111" stroke="#111" stroke-width="0.6"/>
<circle cx="493.8" cy="64" r="3.1" fill="#ec2230"/>
<line x1="499.3" y1="66.4" x2="499.3" y2="77.0" stroke="#111" stroke-width="1.0"/>
<line x1="495.0" y1="71.7" x2="503.6" y2="71.7" stroke="#111" stroke-width="1.0"/>
<path d="M497.6,66.4 L501.0,66.4 L499.3,67.884 Z" fill="#111" stroke="#111" stroke-width="0.6"/>
<path d="M497.6,77.0 L501.0,77.0 L499.3,75.516 Z" fill="#111" stroke="#111" stroke-width="0.6"/>
<path d="M495.0,70.0 L495.0,73.4 L496.204,71.7 Z" fill="#111" stroke="#111" stroke-width="0.6"/>
<path d="M503.6,70.0 L503.6,73.4 L502.396,71.7 Z" fill="#111" stroke="#111" stroke-width="0.6"/>
<circle cx="499.3" cy="71.7" r="3.1" fill="#1b8444"/>
<line x1="522.8" y1="26.0" x2="522.8" y2="36.6" stroke="#111" stroke-width="1.0"/>
<line x1="518.5" y1="31.3" x2="527.0999999999999" y2="31.3" stroke="#111" stroke-width="1.0"/>
<path d="M521.0999999999999,26.0 L524.5,26.0 L522.8,27.484 Z" fill="#111" stroke="#111" stroke-width="0.6"/>
<path d="M521.0999999999999,36.6 L524.5,36.6 L522.8,35.116 Z" fill="#111" stroke="#111" stroke-width="0.6"/>
<path d="M518.5,29.6 L518.5,33.0 L519.704,31.3 Z" fill="#111" stroke="#111" stroke-width="0.6"/>
<path d="M527.0999999999999,29.6 L527.0999999999999,33.0 L525.896,31.3 Z" fill="#111" stroke="#111" stroke-width="0.6"/>
<circle cx="522.8" cy="31.3" r="3.1" fill="#8a2b8e"/>
<line x1="522.8" y1="65.10000000000001" x2="522.8" y2="75.7" stroke="#111" stroke-width="1.0"/>
<line x1="518.5" y1="70.4" x2="527.0999999999999" y2="70.4" stroke="#111" stroke-width="1.0"/>
<path d="M521.0999999999999,65.10000000000001 L524.5,65.10000000000001 L522.8,66.584 Z" fill="#111" stroke="#111" stroke-width="0.6"/>
<path d="M521.0999999999999,75.7 L524.5,75.7 L522.8,74.21600000000001 Z" fill="#111" stroke="#111" stroke-width="0.6"/>
<path d="M518.5,68.7 L518.5,72.10000000000001 L519.704,70.4 Z" fill="#111" stroke="#111" stroke-width="0.6"/>
<path d="M527.0999999999999,68.7 L527.0999999999999,72.10000000000001 L525.896,70.4 Z" fill="#111" stroke="#111" stroke-width="0.6"/>
<circle cx="522.8" cy="70.4" r="3.1" fill="#f28b22"/>
<line x1="572.7" y1="59.8" x2="572.7" y2="70.39999999999999" stroke="#111" stroke-width="1.0"/>
<line x1="568.4000000000001" y1="65.1" x2="577.0" y2="65.1" stroke="#111" stroke-width="1.0"/>
<path d="M571.0,59.8 L574.4000000000001,59.8 L572.7,61.28399999999999 Z" fill="#111" stroke="#111" stroke-width="0.6"/>
<path d="M571.0,70.39999999999999 L574.4000000000001,70.39999999999999 L572.7,68.916 Z" fill="#111" stroke="#111" stroke-width="0.6"/>
<path d="M568.4000000000001,63.39999999999999 L568.4000000000001,66.8 L569.604,65.1 Z" fill="#111" stroke="#111" stroke-width="0.6"/>
<path d="M577.0,63.39999999999999 L577.0,66.8 L575.796,65.1 Z" fill="#111" stroke="#111" stroke-width="0.6"/>
<circle cx="572.7" cy="65.1" r="3.1" fill="#ec2230"/>
<line x1="413.6" y1="169.89999999999998" x2="413.6" y2="180.5" stroke="#111" stroke-width="1.0"/>
<line x1="409.3" y1="175.2" x2="417.90000000000003" y2="175.2" stroke="#111" stroke-width="1.0"/>
<path d="M411.90000000000003,169.89999999999998 L415.3,169.89999999999998 L413.6,171.384 Z" fill="#111" stroke="#111" stroke-width="0.6"/>
<path d="M411.90000000000003,180.5 L415.3,180.5 L413.6,179.016 Z" fill="#111" stroke="#111" stroke-width="0.6"/>
<path d="M409.3,173.5 L409.3,176.89999999999998 L410.504,175.2 Z" fill="#111" stroke="#111" stroke-width="0.6"/>
<path d="M417.90000000000003,173.5 L417.90000000000003,176.89999999999998 L416.696,175.2 Z" fill="#111" stroke="#111" stroke-width="0.6"/>
<circle cx="413.6" cy="175.2" r="3.1" fill="#3a5aad"/>
<line x1="413.6" y1="204.5" x2="413.6" y2="215.10000000000002" stroke="#111" stroke-width="1.0"/>
<line x1="409.3" y1="209.8" x2="417.90000000000003" y2="209.8" stroke="#111" stroke-width="1.0"/>
<path d="M411.90000000000003,204.5 L415.3,204.5 L413.6,205.984 Z" fill="#111" stroke="#111" stroke-width="0.6"/>
<path d="M411.90000000000003,215.10000000000002 L415.3,215.10000000000002 L413.6,213.616 Z" fill="#111" stroke="#111" stroke-width="0.6"/>
<path d="M409.3,208.10000000000002 L409.3,211.5 L410.504,209.8 Z" fill="#111" stroke="#111" stroke-width="0.6"/>
<path d="M417.90000000000003,208.10000000000002 L417.90000000000003,211.5 L416.696,209.8 Z" fill="#111" stroke="#111" stroke-width="0.6"/>
<circle cx="413.6" cy="209.8" r="3.1" fill="#ec2230"/>
<line x1="441.2" y1="184.6" x2="441.2" y2="195.20000000000002" stroke="#111" stroke-width="1.0"/>
<line x1="436.9" y1="189.9" x2="445.5" y2="189.9" stroke="#111" stroke-width="1.0"/>
<path d="M439.5,184.6 L442.9,184.6 L441.2,186.084 Z" fill="#111" stroke="#111" stroke-width="0.6"/>
<path d="M439.5,195.20000000000002 L442.9,195.20000000000002 L441.2,193.716 Z" fill="#111" stroke="#111" stroke-width="0.6"/>
<path d="M436.9,188.20000000000002 L436.9,191.6 L438.104,189.9 Z" fill="#111" stroke="#111" stroke-width="0.6"/>
<path d="M445.5,188.20000000000002 L445.5,191.6 L444.296,189.9 Z" fill="#111" stroke="#111" stroke-width="0.6"/>
<circle cx="441.2" cy="189.9" r="3.1" fill="#8a2b8e"/>
<line x1="458.5" y1="211.79999999999998" x2="458.5" y2="222.4" stroke="#111" stroke-width="1.0"/>
<line x1="454.2" y1="217.1" x2="462.8" y2="217.1" stroke="#111" stroke-width="1.0"/>
<path d="M456.8,211.79999999999998 L460.2,211.79999999999998 L458.5,213.284 Z" fill="#111" stroke="#111" stroke-width="0.6"/>
<path d="M456.8,222.4 L460.2,222.4 L458.5,220.916 Z" fill="#111" stroke="#111" stroke-width="0.6"/>
<path d="M454.2,215.4 L454.2,218.79999999999998 L455.404,217.1 Z" fill="#111" stroke="#111" stroke-width="0.6"/>
<path d="M462.8,215.4 L462.8,218.79999999999998 L461.596,217.1 Z" fill="#111" stroke="#111" stroke-width="0.6"/>
<circle cx="458.5" cy="217.1" r="3.1" fill="#f28b22"/>
<line x1="467.1" y1="194.1" x2="467.1" y2="204.70000000000002" stroke="#111" stroke-width="1.0"/>
<line x1="462.8" y1="199.4" x2="471.40000000000003" y2="199.4" stroke="#111" stroke-width="1.0"/>
<path d="M465.40000000000003,194.1 L468.8,194.1 L467.1,195.584 Z" fill="#111" stroke="#111" stroke-width="0.6"/>
<path d="M465.40000000000003,204.70000000000002 L468.8,204.70000000000002 L467.1,203.216 Z" fill="#111" stroke="#111" stroke-width="0.6"/>
<path d="M462.8,197.70000000000002 L462.8,201.1 L464.004,199.4 Z" fill="#111" stroke="#111" stroke-width="0.6"/>
<path d="M471.40000000000003,197.70000000000002 L471.40000000000003,201.1 L470.196,199.4 Z" fill="#111" stroke="#111" stroke-width="0.6"/>
<circle cx="467.1" cy="199.4" r="3.1" fill="#3a5aad"/>
<line x1="469.7" y1="244.7" x2="469.7" y2="255.3" stroke="#111" stroke-width="1.0"/>
<line x1="465.4" y1="250" x2="474.0" y2="250" stroke="#111" stroke-width="1.0"/>
<path d="M468.0,244.7 L471.4,244.7 L469.7,246.184 Z" fill="#111" stroke="#111" stroke-width="0.6"/>
<path d="M468.0,255.3 L471.4,255.3 L469.7,253.816 Z" fill="#111" stroke="#111" stroke-width="0.6"/>
<path d="M465.4,248.3 L465.4,251.7 L466.604,250 Z" fill="#111" stroke="#111" stroke-width="0.6"/>
<path d="M474.0,248.3 L474.0,251.7 L472.796,250 Z" fill="#111" stroke="#111" stroke-width="0.6"/>
<circle cx="469.7" cy="250" r="3.1" fill="#1b8444"/>
<line x1="478.8" y1="164.29999999999998" x2="478.8" y2="174.9" stroke="#111" stroke-width="1.0"/>
<line x1="474.5" y1="169.6" x2="483.1" y2="169.6" stroke="#111" stroke-width="1.0"/>
<path d="M477.1,164.29999999999998 L480.5,164.29999999999998 L478.8,165.784 Z" fill="#111" stroke="#111" stroke-width="0.6"/>
<path d="M477.1,174.9 L480.5,174.9 L478.8,173.416 Z" fill="#111" stroke="#111" stroke-width="0.6"/>
<path d="M474.5,167.9 L474.5,171.29999999999998 L475.704,169.6 Z" fill="#111" stroke="#111" stroke-width="0.6"/>
<path d="M483.1,167.9 L483.1,171.29999999999998 L481.896,169.6 Z" fill="#111" stroke="#111" stroke-width="0.6"/>
<circle cx="478.8" cy="169.6" r="3.1" fill="#ec2230"/>
<line x1="493.9" y1="172.1" x2="493.9" y2="182.70000000000002" stroke="#111" stroke-width="1.0"/>
<line x1="489.59999999999997" y1="177.4" x2="498.2" y2="177.4" stroke="#111" stroke-width="1.0"/>
<path d="M492.2,172.1 L495.59999999999997,172.1 L493.9,173.584 Z" fill="#111" stroke="#111" stroke-width="0.6"/>
<path d="M492.2,182.70000000000002 L495.59999999999997,182.70000000000002 L493.9,181.216 Z" fill="#111" stroke="#111" stroke-width="0.6"/>
<path d="M489.59999999999997,175.70000000000002 L489.59999999999997,179.1 L490.804,177.4 Z" fill="#111" stroke="#111" stroke-width="0.6"/>
<path d="M498.2,175.70000000000002 L498.2,179.1 L496.996,177.4 Z" fill="#111" stroke="#111" stroke-width="0.6"/>
<circle cx="493.9" cy="177.4" r="3.1" fill="#ec2230"/>
<line x1="499.1" y1="252.89999999999998" x2="499.1" y2="263.5" stroke="#111" stroke-width="1.0"/>
<line x1="494.8" y1="258.2" x2="503.40000000000003" y2="258.2" stroke="#111" stroke-width="1.0"/>
<path d="M497.40000000000003,252.89999999999998 L500.8,252.89999999999998 L499.1,254.384 Z" fill="#111" stroke="#111" stroke-width="0.6"/>
<path d="M497.40000000000003,263.5 L500.8,263.5 L499.1,262.01599999999996 Z" fill="#111" stroke="#111" stroke-width="0.6"/>
<path d="M494.8,256.5 L494.8,259.9 L496.004,258.2 Z" fill="#111" stroke="#111" stroke-width="0.6"/>
<path d="M503.40000000000003,256.5 L503.40000000000003,259.9 L502.196,258.2 Z" fill="#111" stroke="#111" stroke-width="0.6"/>
<circle cx="499.1" cy="258.2" r="3.1" fill="#1b8444"/>
<line x1="522.9" y1="157.39999999999998" x2="522.9" y2="168.0" stroke="#111" stroke-width="1.0"/>
<line x1="518.6" y1="162.7" x2="527.1999999999999" y2="162.7" stroke="#111" stroke-width="1.0"/>
<path d="M521.1999999999999,157.39999999999998 L524.6,157.39999999999998 L522.9,158.884 Z" fill="#111" stroke="#111" stroke-width="0.6"/>
<path d="M521.1999999999999,168.0 L524.6,168.0 L522.9,166.516 Z" fill="#111" stroke="#111" stroke-width="0.6"/>
<path d="M518.6,161.0 L518.6,164.39999999999998 L519.804,162.7 Z" fill="#111" stroke="#111" stroke-width="0.6"/>
<path d="M527.1999999999999,161.0 L527.1999999999999,164.39999999999998 L525.996,162.7 Z" fill="#111" stroke="#111" stroke-width="0.6"/>
<circle cx="522.9" cy="162.7" r="3.1" fill="#8a2b8e"/>
<line x1="522.9" y1="218.29999999999998" x2="522.9" y2="228.9" stroke="#111" stroke-width="1.0"/>
<line x1="518.6" y1="223.6" x2="527.1999999999999" y2="223.6" stroke="#111" stroke-width="1.0"/>
<path d="M521.1999999999999,218.29999999999998 L524.6,218.29999999999998 L522.9,219.784 Z" fill="#111" stroke="#111" stroke-width="0.6"/>
<path d="M521.1999999999999,228.9 L524.6,228.9 L522.9,227.416 Z" fill="#111" stroke="#111" stroke-width="0.6"/>
<path d="M518.6,221.9 L518.6,225.29999999999998 L519.804,223.6 Z" fill="#111" stroke="#111" stroke-width="0.6"/>
<path d="M527.1999999999999,221.9 L527.1999999999999,225.29999999999998 L525.996,223.6 Z" fill="#111" stroke="#111" stroke-width="0.6"/>
<circle cx="522.9" cy="223.6" r="3.1" fill="#f28b22"/>
<line x1="572.5" y1="189.79999999999998" x2="572.5" y2="200.4" stroke="#111" stroke-width="1.0"/>
<line x1="568.2" y1="195.1" x2="576.8" y2="195.1" stroke="#111" stroke-width="1.0"/>
<path d="M570.8,189.79999999999998 L574.2,189.79999999999998 L572.5,191.284 Z" fill="#111" stroke="#111" stroke-width="0.6"/>
<path d="M570.8,200.4 L574.2,200.4 L572.5,198.916 Z" fill="#111" stroke="#111" stroke-width="0.6"/>
<path d="M568.2,193.4 L568.2,196.79999999999998 L569.404,195.1 Z" fill="#111" stroke="#111" stroke-width="0.6"/>
<path d="M576.8,193.4 L576.8,196.79999999999998 L575.596,195.1 Z" fill="#111" stroke="#111" stroke-width="0.6"/>
<circle cx="572.5" cy="195.1" r="3.1" fill="#ec2230"/>
</svg>
</body></html>
